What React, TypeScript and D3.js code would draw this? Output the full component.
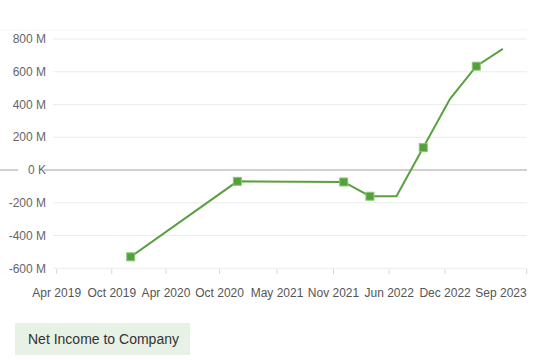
import React from "react";
import * as d3 from "d3";

// net income, millions, by period end
const periods = ["2019-12-31", "2020-12-31", "2021-12-31", "2022-03-31", "2022-06-30", "2022-09-30", "2022-12-31", "2023-03-31", "2023-06-30"];
const netIncome = [-530, -69, -73, -160, -160, 137, 435, 634, 740];
const hasMarker = [true, true, true, true, false, true, false, true, false];

const xTicks = ["2019-04-21", "2019-10-27", "2020-04-30", "2020-10-31", "2021-05-16", "2021-11-26", "2022-06-05", "2022-12-14", "2023-09-20"];
const yTicks = [-600, -400, -200, 0, 200, 400, 600, 800];

const legendLabel = "Net Income to Company";

const W = 538;
const H = 360;
const font = "'Liberation Sans', Arial, sans-serif";

export default function App() {
  const parse = (s: string) => new Date(s + "T00:00:00Z");
  const x = d3.scaleUtc()
    .domain([parse(xTicks[0]), parse(xTicks[xTicks.length - 1])])
    .range([56.7, 526.7]);
  const y = d3.scaleLinear().domain([-600, 800]).range([268.3, 39]);
  const fmtX = d3.utcFormat("%b %Y");
  const fmtY = (v: number) => (v === 0 ? "0 K" : `${v} M`);

  const pts = periods.map((p, i) => ({ d: parse(p), v: netIncome[i], m: hasMarker[i] }));
  const line = d3.line<{ d: Date; v: number }>()
    .x(p => x(p.d))
    .y(p => y(p.v));

  const gridLeft = 53;
  const gridRight = 527;

  return (
    <svg width={W} height={H} style={{ position: "absolute", left: 0, top: 0, background: "#fff" }}>
      {/* top frame line */}
      <line x1={0} x2={gridRight} y1={30} y2={30} stroke="#f3f3f3" />
      {yTicks.filter(t => t !== 0).map(t => (
        <line key={t} x1={gridLeft} x2={gridRight} y1={y(t)} y2={y(t)} stroke="#ececec" />
      ))}
      <line x1={0} x2={gridRight} y1={y(0)} y2={y(0)} stroke="#d0d0d0" strokeWidth={2} />

      {yTicks.map(t => (
        <g key={t} transform={`translate(46,${y(t)})`}>
          {t === 0 && <rect x={-28} y={-7} width={26} height={14} fill="#fff" />}
          <text textAnchor="end" dy="0.35em" fontFamily={font} fontSize={12} fill="#666">
            {fmtY(t)}
          </text>
        </g>
      ))}

      {xTicks.map((t, i) => {
        const px = x(parse(t));
        const last = i === xTicks.length - 1;
        return (
          <g key={t} transform={`translate(${px},0)`}>
            <line y1={269} y2={274} stroke="#d6d6d6" />
            <text y={297} textAnchor={last ? "end" : "middle"} fontFamily={font} fontSize={12} fill="#555">
              {fmtX(parse(t))}
            </text>
          </g>
        );
      })}

      <path d={line(pts) || ""} fill="none" stroke="#5aa040" strokeWidth={2} />
      {pts.filter(p => p.m).map((p, i) => (
        <rect key={i} x={x(p.d) - 4} y={y(p.v) - 4} width={8} height={8}
          fill="#55a03a" stroke="#8cc67a" strokeWidth={1} />
      ))}

      <rect x={15} y={323} width={175} height={32} fill="#e8f1e5" />
      <text x={28} y={344} fontFamily={font} fontSize={14} fill="#333">{legendLabel}</text>
    </svg>
  );
}
